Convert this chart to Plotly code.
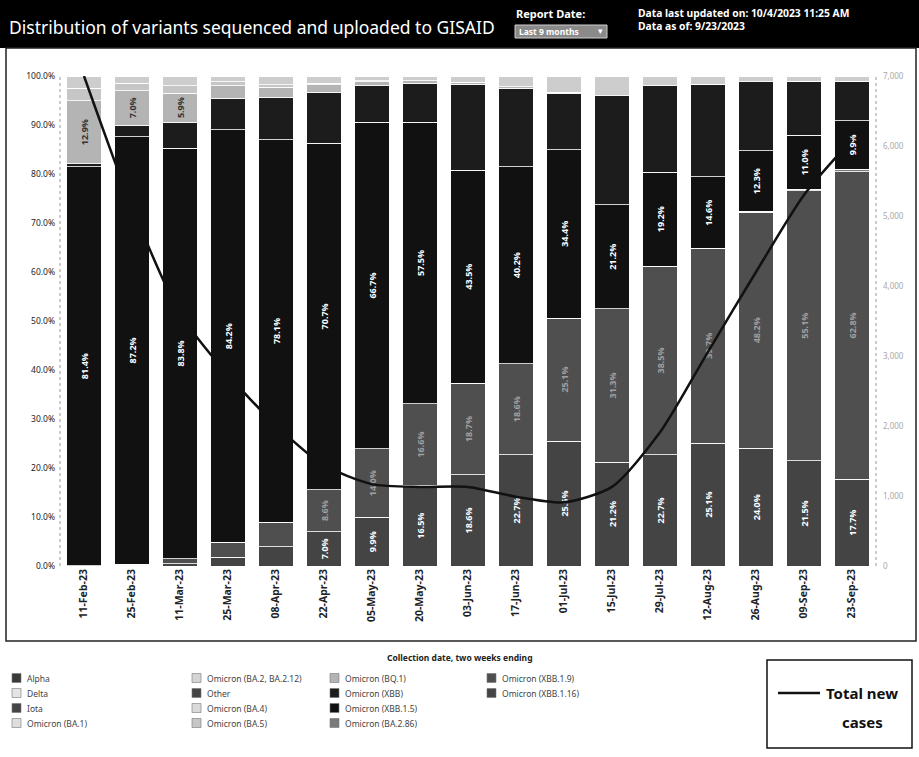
import plotly.graph_objects as go

# Two-week periods (collection date, period ending)
periods = ["11-Feb-23", "25-Feb-23", "11-Mar-23", "25-Mar-23", "08-Apr-23", "22-Apr-23",
           "05-May-23", "20-May-23", "03-Jun-23", "17-Jun-23", "01-Jul-23", "15-Jul-23",
           "29-Jul-23", "12-Aug-23", "26-Aug-23", "09-Sep-23", "23-Sep-23"]

# Share of sequenced samples per lineage (%), listed bottom-to-top of the stack
xbb_1_16 = [0.0, 0.2, 0.5, 1.8, 3.9, 7.0, 9.9, 16.5, 18.6, 22.7, 25.5, 21.2, 22.7, 25.1, 24.0, 21.5, 17.7]
xbb_1_9 = [0.1, 0.2, 1.0, 3.0, 5.0, 8.6, 14.0, 16.6, 18.7, 18.6, 25.1, 31.3, 38.5, 39.7, 48.2, 55.1, 62.8]
ba_2_86 = [0, 0, 0, 0, 0, 0, 0, 0, 0, 0, 0, 0, 0, 0, 0.2, 0.3, 0.5]
xbb_1_5 = [81.4, 87.2, 83.8, 84.2, 78.1, 70.7, 66.7, 57.5, 43.5, 40.2, 34.4, 21.2, 19.2, 14.6, 12.3, 11.0, 9.9]
xbb = [0.6, 2.4, 5.3, 6.5, 8.7, 10.4, 7.4, 7.9, 17.5, 16.0, 11.5, 22.3, 17.6, 18.9, 14.1, 11.0, 8.0]
bq_1 = [12.9, 7.0, 5.9, 2.5, 2.0, 1.5, 0.8, 0.5, 0.4, 0.3, 0.2, 0, 0, 0, 0, 0, 0]
ba_5 = [2.5, 1.5, 1.5, 0.8, 0.5, 0.3, 0.2, 0, 0, 0, 0, 0, 0, 0, 0, 0, 0]
ba_4 = [0] * 17
other = [2.5, 1.5, 2.0, 1.2, 1.8, 1.5, 1.0, 1.0, 1.3, 2.2, 3.3, 4.0, 2.0, 1.7, 1.2, 1.1, 1.1]
ba_2 = [0] * 17
ba_1 = [0] * 17
iota = [0] * 17
delta = [0] * 17
alpha = [0] * 17

# Total new cases per period (right axis)
total_new_cases = [7000, 5130, 3610, 2730, 2010, 1440, 1170, 1130, 1130, 990, 910, 1130,
                   1910, 3060, 4200, 5300, 6090]

# Lineage names, in legend (column-major) order
legend_names = ["Alpha", "Delta", "Iota", "Omicron (BA.1)",
                "Omicron (BA.2, BA.2.12)", "Other", "Omicron (BA.4)", "Omicron (BA.5)",
                "Omicron (BQ.1)", "Omicron (XBB)", "Omicron (XBB.1.5)", "Omicron (BA.2.86)",
                "Omicron (XBB.1.9)", "Omicron (XBB.1.16)"]

series = {
    "Omicron (XBB.1.16)": xbb_1_16,
    "Omicron (XBB.1.9)": xbb_1_9,
    "Omicron (BA.2.86)": ba_2_86,
    "Omicron (XBB.1.5)": xbb_1_5,
    "Omicron (XBB)": xbb,
    "Omicron (BQ.1)": bq_1,
    "Omicron (BA.5)": ba_5,
    "Omicron (BA.4)": ba_4,
    "Other": other,
    "Omicron (BA.2, BA.2.12)": ba_2,
    "Omicron (BA.1)": ba_1,
    "Iota": iota,
    "Delta": delta,
    "Alpha": alpha,
}

colors = {
    "Alpha": "#3a3a3a",
    "Delta": "#e4e4e4",
    "Iota": "#454545",
    "Omicron (BA.1)": "#dedede",
    "Omicron (BA.2, BA.2.12)": "#d4d4d4",
    "Other": "#cdcdcd",
    "Omicron (BA.4)": "#dadada",
    "Omicron (BA.5)": "#c6c6c6",
    "Omicron (BQ.1)": "#b4b4b4",
    "Omicron (XBB)": "#1c1c1c",
    "Omicron (XBB.1.5)": "#111111",
    "Omicron (BA.2.86)": "#7a7a7a",
    "Omicron (XBB.1.9)": "#4f4f4f",
    "Omicron (XBB.1.16)": "#444444",
}
legend_swatch = dict(colors)
legend_swatch["Other"] = "#444444"

# Which segments carry a value label, and in what colour
label_rules = {
    "Omicron (XBB.1.5)": (0, "white"),
    "Omicron (XBB.1.16)": (6, "white"),
    "Omicron (XBB.1.9)": (8, "#a0a0a0"),
    "Omicron (BQ.1)": (5, "#333333"),
}

W, H = 919, 757
L, R, T, B = 60, 876, 76, 566


def px(x):
    return (x - L) / (R - L)


def py(y):
    return (B - y) / (B - T)


fig = go.Figure()

for name, vals in series.items():
    thr, tcol = label_rules.get(name, (None, "white"))
    if thr is None:
        texts = [""] * len(vals)
    else:
        texts = [f"{v:.1f}%" if v >= thr and v > 0 else "" for v in vals]
    fig.add_trace(go.Bar(
        x=periods, y=vals, name=name,
        marker=dict(color=colors[name], line=dict(color="white", width=0.8)),
        text=texts, textposition="inside", textangle=-90,
        insidetextanchor="middle",
        textfont=dict(size=9, color=tcol, family="Open Sans", weight="bold"),
        showlegend=False, hoverinfo="skip",
    ))

fig.add_trace(go.Scatter(
    x=periods, y=total_new_cases, name="Total new cases", yaxis="y2",
    mode="lines", line=dict(color="#111111", width=2.5, shape="spline", smoothing=0.7),
    showlegend=False,
))

shapes = []
annotations = []

# Header band
shapes.append(dict(type="rect", xref="paper", yref="paper", layer="below",
                   x0=px(0), x1=px(W), y0=py(48), y1=py(0),
                   fillcolor="black", line=dict(width=0)))
annotations.append(dict(xref="paper", yref="paper", x=px(7), y=py(27),
                        xanchor="left", yanchor="middle", showarrow=False,
                        text="Distribution of variants sequenced and uploaded to GISAID",
                        font=dict(family="Noto Sans", size=17.5, color="white")))
annotations.append(dict(xref="paper", yref="paper", x=px(514), y=py(13),
                        xanchor="left", yanchor="middle", showarrow=False,
                        text="<b>Report Date:</b>",
                        font=dict(family="Noto Sans", size=11, color="white")))
shapes.append(dict(type="rect", xref="paper", yref="paper",
                   x0=px(515), x1=px(607), y0=py(38), y1=py(25),
                   fillcolor="#8a8a8a", line=dict(color="#cfcfcf", width=1)))
annotations.append(dict(xref="paper", yref="paper", x=px(517), y=py(31.5),
                        xanchor="left", yanchor="middle", showarrow=False,
                        text="<b>Last 9 months</b>",
                        font=dict(family="Noto Sans", size=8.5, color="white")))
annotations.append(dict(xref="paper", yref="paper", x=px(605), y=py(31.5),
                        xanchor="right", yanchor="middle", showarrow=False,
                        text="▾", font=dict(family="DejaVu Sans", size=9, color="white")))
annotations.append(dict(xref="paper", yref="paper", x=px(636), y=py(13),
                        xanchor="left", yanchor="middle", showarrow=False,
                        text="<b>Data last updated on: 10/4/2023 11:25 AM</b>",
                        font=dict(family="Noto Sans", size=10.3, color="white")))
annotations.append(dict(xref="paper", yref="paper", x=px(636), y=py(26),
                        xanchor="left", yanchor="middle", showarrow=False,
                        text="<b>Data as of: 9/23/2023</b>",
                        font=dict(family="Noto Sans", size=10.3, color="white")))

# Chart frame and dotted axis edges
shapes.append(dict(type="rect", xref="paper", yref="paper", layer="below",
                   x0=px(6), x1=px(916), y0=py(641), y1=py(48),
                   fillcolor="rgba(0,0,0,0)", line=dict(color="#222222", width=1.5)))
for xe in (0, 1):
    shapes.append(dict(type="line", xref="paper", yref="paper", layer="below",
                       x0=xe, x1=xe, y0=0, y1=1,
                       line=dict(color="#9a9a9a", width=1, dash="dot")))

# X axis title
annotations.append(dict(xref="paper", yref="paper", x=px(460), y=py(657),
                        xanchor="center", yanchor="middle", showarrow=False,
                        text="<b>Collection date, two weeks ending</b>",
                        font=dict(family="Noto Sans", size=8.5, color="#222222")))

# Lineage legend, four columns
col_x = [12, 192, 330, 487]
row_y = [678, 693, 708, 723]
for i, name in enumerate(legend_names):
    c, r = divmod(i, 4)
    x0, yc = col_x[c], row_y[r]
    shapes.append(dict(type="rect", xref="paper", yref="paper",
                       x0=px(x0), x1=px(x0 + 9), y0=py(yc + 4.5), y1=py(yc - 4.5),
                       fillcolor=legend_swatch[name], line=dict(color="#777777", width=0.6)))
    annotations.append(dict(xref="paper", yref="paper", x=px(x0 + 13), y=py(yc),
                            xanchor="left", yanchor="middle", showarrow=False,
                            text=name,
                            font=dict(family="Noto Sans", size=8.5, color="#444444")))

# Total new cases legend box
shapes.append(dict(type="rect", xref="paper", yref="paper",
                   x0=px(767), x1=px(912), y0=py(748), y1=py(660),
                   fillcolor="white", line=dict(color="#111111", width=1.5)))
shapes.append(dict(type="line", xref="paper", yref="paper",
                   x0=px(778), x1=px(820), y0=py(693), y1=py(693),
                   line=dict(color="#111111", width=2.5)))
annotations.append(dict(xref="paper", yref="paper", x=px(824), y=py(693),
                        xanchor="left", yanchor="middle", showarrow=False,
                        text="<b>Total new</b>",
                        font=dict(family="Noto Sans", size=15, color="#111111")))
annotations.append(dict(xref="paper", yref="paper", x=px(862), y=py(722),
                        xanchor="center", yanchor="middle", showarrow=False,
                        text="<b>cases</b>",
                        font=dict(family="Noto Sans", size=15, color="#111111")))

fig.update_layout(
    width=W, height=H,
    margin=dict(l=L, r=W - R, t=T, b=H - B, autoexpand=False),
    paper_bgcolor="white", plot_bgcolor="white",
    barmode="stack", bargap=0.29,
    font=dict(family="Noto Sans", color="#222222"),
    xaxis=dict(tickangle=-90, showgrid=False, showline=False, ticks="",
               tickfont=dict(family="Noto Sans", size=10.5, color="#222222", weight="bold"),
               fixedrange=True),
    yaxis=dict(range=[0, 100], dtick=10, tickformat=".1f", ticksuffix="%",
               showgrid=False, zeroline=False, showline=False, ticks="",
               tickfont=dict(family="Noto Sans", size=8.5, color="#222222"),
               ticklabelstandoff=4),
    yaxis2=dict(range=[0, 7000], dtick=1000, overlaying="y", side="right",
                tickformat=",", showgrid=False, zeroline=False, showline=False,
                ticks="", tickfont=dict(family="Noto Sans", size=8, color="#a8a8a8"),
                ticklabelstandoff=6),
    shapes=shapes, annotations=annotations,
    showlegend=False,
)

fig.write_html("out.html")
